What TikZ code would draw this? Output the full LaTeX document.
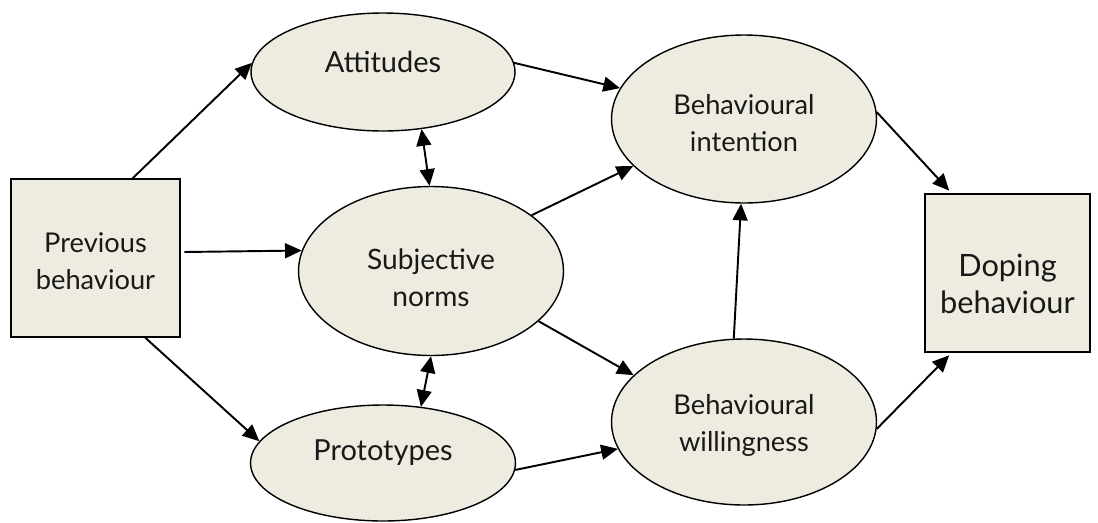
\documentclass[tikz,border=0pt]{standalone}
\usepackage{fontspec}
\setmainfont{Lato}
\usetikzlibrary{shapes.geometric,arrows.meta}
\definecolor{paper}{HTML}{EEECE1}

\newcommand\Item[9]{
  \node[#1,minimum width=#5cm,minimum height=#6cm] (#4) at (#2,#3) {};
  \node[txt,font=\fontsize{#8}{21}\selectfont] (#4txt) at ([yshift=#7]#4) {#9};
}
\tikzstyle{box}=[rectangle,draw,fill=paper,line width=0.9pt,inner sep=0pt]
\tikzstyle{oval}=[ellipse,draw,fill=paper,line width=0.8pt,inner sep=0pt]
\tikzstyle{txt}=[align=center,inner sep=0pt,text=black!90]
\tikzstyle{arr}=[-{Triangle[length=9.5pt,width=8.5pt]},line width=1.1pt]
\tikzstyle{dblarr}=[{Triangle[length=9.5pt,width=8.5pt]}-{Triangle[length=9.5pt,width=8.5pt]},line width=1.1pt]

\begin{document}
\begin{tikzpicture}[x=0.02cm,y=-0.02cm]
  \useasboundingbox (0,0) rectangle (1098,522);

  \Item{box}{95.5}{258}{prev}{3.38}{3.16}{-0.07cm}{15.5}{Previous\\behaviour}
  \Item{oval}{383}{72}{att}{5.28}{2.36}{0.2cm}{16.5}{Attitudes}
  \Item{oval}{431}{271}{subj}{5.3}{3.38}{-0.14cm}{16}{Subjective\\norms}
  \Item{oval}{383}{463}{proto}{5.3}{2.32}{0.2cm}{16.5}{Prototypes}
  \Item{oval}{744}{119}{int}{5.3}{3.36}{-0.08cm}{15.5}{Behavioural\\intention}
  \Item{oval}{744}{422}{will}{5.3}{3.32}{-0.06cm}{15.5}{Behavioural\\willingness}
  \Item{box}{1007.5}{273}{dop}{3.3}{3.16}{-0.22cm}{17.5}{Doping\\behaviour}

  \draw[arr] (prev.65) -- (att.176);
  \draw[arr,shorten <=2pt] (prev.4) -- (subj.171);
  \draw[arr] (prev.302) -- (proto.170);
  \draw[dblarr] (att.304) -- (subj.91);
  \draw[dblarr] (subj.south) -- (proto.56);
  \draw[arr] (att.4) -- (int.166);
  \draw[arr] (subj.29) -- (int.203);
  \draw[arr] (subj.335) -- (will.157);
  \draw[arr] (proto.357) -- (will.192);
  \draw[arr] (will.97) -- (int.268);
  \draw[arr,shorten >=2pt] (int.3) -- (dop.125);
  \draw[arr,shorten >=2pt] (will.357) -- (dop.235);
\end{tikzpicture}
\end{document}
